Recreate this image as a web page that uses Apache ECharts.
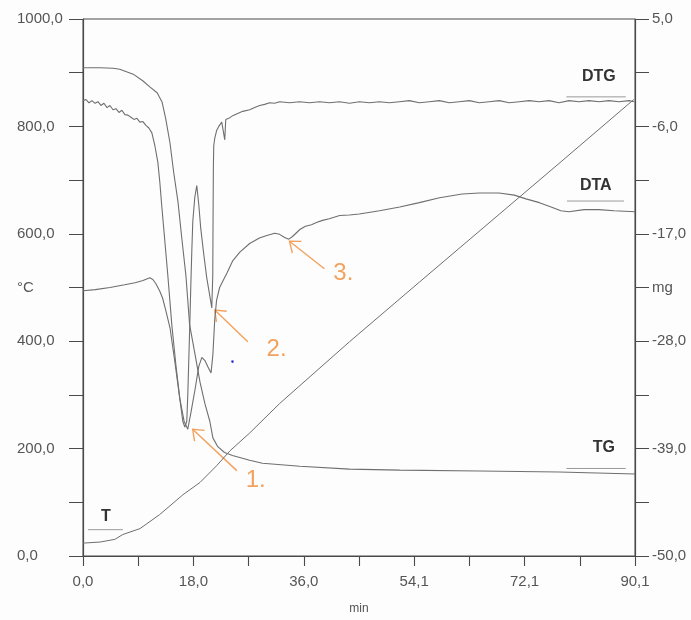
<!DOCTYPE html>
<html>
<head>
<meta charset="utf-8">
<script src="https://cdn.jsdelivr.net/npm/echarts@6/dist/echarts.min.js"></script>
<style>
  html, body { margin: 0; padding: 0; background: #fdfdfd; }
  #chart { width: 691px; height: 620px; }
</style>
</head>
<body>
<div id="chart"></div>
<script>
// Time axis (min)
const xTickValues = [0, 18.02, 36.04, 54.06, 72.08, 90.1];
const xTickLabels = ['0,0', '18,0', '36,0', '54,1', '72,1', '90,1'];
const xMinorTicks = [9.01, 27.03, 45.05, 63.07, 81.09];

// Temperature axis (°C), left
const tempLabelValues = [0, 200, 400, 500, 600, 800, 1000];
const tempTickLabels = ['0,0', '200,0', '400,0', '°C', '600,0', '800,0', '1000,0'];

// Mass axis (mg), right
const massTickValues = [-50, -44.5, -39, -33.5, -28, -22.5, -17, -11.5, -6, -0.5, 5];
const massLabelValues = [-50, -39, -28, -22.5, -17, -6, 5];
const massTickLabels = ['-50,0', '-39,0', '-28,0', 'mg', '-17,0', '-6,0', '5,0'];

// T: furnace temperature [min, °C]
const tempCurve = [
  [0, 24], [2.8, 26], [5.2, 31], [6.5, 40], [9.3, 51], [12.5, 77], [16.3, 114],
  [19.1, 137], [21.8, 168], [24.0, 196], [27.2, 229], [32.1, 284], [43.5, 399],
  [54.9, 510], [67.9, 636], [77.7, 731], [89.9, 850]
];

// TG: sample mass change [min, mg]
const tgCurve = [
  [0, 0.0], [2.8, 0.0], [4.9, -0.05], [6.0, -0.15], [8.2, -0.65], [9.8, -1.35],
  [10.9, -1.95], [12.1, -2.55], [12.9, -3.5], [13.5, -5.2], [14.2, -7.7],
  [14.8, -10.7], [15.5, -13.7], [16.1, -17.3], [16.8, -21.3], [17.4, -26.3],
  [18.3, -29.4], [19.1, -32.2], [19.9, -34.4], [20.7, -36.2], [21.2, -37.9],
  [22.0, -38.8], [23.1, -39.4], [24.4, -39.7], [27.2, -40.2], [29.3, -40.5],
  [35.4, -40.8], [43.5, -41.1], [51.7, -41.2], [64.7, -41.3], [77.7, -41.4],
  [90.1, -41.6]
];

// DTA signal [min, plotted level]
const dtaCurve = [
  [0, 494], [2.0, 496], [4.4, 500], [6.8, 505], [8.5, 509], [9.8, 513], [10.4, 516],
  [10.9, 518], [11.4, 515], [11.9, 507], [12.5, 494], [13.0, 480], [13.5, 458],
  [14.2, 425], [15.0, 361], [15.8, 293], [16.5, 251], [17.1, 236], [17.6, 266],
  [18.3, 311], [18.9, 353], [19.4, 370], [19.9, 364], [20.4, 352], [20.9, 341],
  [21.2, 375], [21.5, 440], [21.8, 476], [22.3, 500], [23.0, 516], [23.5, 527],
  [24.4, 549], [25.6, 566], [27.2, 582], [28.8, 592], [30.0, 597], [31.3, 601],
  [32.1, 599], [32.9, 593], [33.6, 590], [34.2, 595], [35.4, 608], [36.3, 614],
  [37.3, 617], [38.1, 621], [39.1, 625], [40.2, 628], [41.9, 634], [43.5, 635],
  [45.1, 637], [48.4, 643], [51.7, 650], [54.9, 658], [58.2, 667], [61.9, 674],
  [64.7, 676], [67.9, 676], [70.4, 672], [72.3, 665], [74.5, 658], [76.4, 650],
  [78.0, 643], [79.3, 641], [81.8, 645], [84.2, 645], [86.7, 643], [90.1, 641]
];

// DTG signal [min, plotted level]
const dtgCurve = [
  [0, 848], [0.49, 850], [0.98, 844], [1.47, 848], [1.96, 843], [2.44, 846],
  [2.93, 839], [3.42, 843], [3.91, 835], [4.40, 839], [4.89, 831], [5.38, 833],
  [5.87, 826], [6.35, 830], [6.84, 822], [7.33, 821], [7.82, 817], [8.31, 813],
  [8.80, 815], [9.29, 808], [9.78, 809], [10.26, 802], [10.75, 797], [11.24, 788],
  [11.73, 764], [12.22, 733], [12.54, 696], [12.87, 650], [13.36, 586], [13.85, 522],
  [14.50, 430], [15.15, 357], [15.80, 293], [16.29, 251], [16.62, 240], [16.94, 251],
  [17.11, 302], [17.43, 430], [17.60, 504], [17.76, 568], [17.92, 623], [18.25, 668],
  [18.57, 690], [18.90, 654], [19.22, 610], [19.71, 562], [20.20, 518], [20.69, 485],
  [21.02, 462], [21.18, 522], [21.23, 632], [21.28, 723], [21.34, 764], [21.51, 778],
  [21.83, 793], [22.16, 800], [22.65, 808], [22.97, 811], [23.14, 775], [23.30, 813],
  [23.79, 815], [24.44, 820], [25.25, 824], [26.07, 828], [27.21, 831], [28.02, 835],
  [28.84, 839], [29.65, 841], [30.47, 844], [31.28, 843], [32.10, 846], [33.72, 844],
  [35.35, 846], [36.98, 844], [38.61, 846], [40.24, 844], [41.87, 846], [43.50, 843],
  [45.13, 846], [46.76, 844], [48.39, 846], [50.02, 844], [51.65, 846], [53.27, 848],
  [54.90, 844], [56.53, 846], [58.16, 848], [59.79, 844], [61.42, 846], [63.05, 848],
  [64.68, 844], [66.31, 846], [67.94, 848], [69.57, 844], [71.20, 846], [72.83, 848],
  [74.45, 846], [76.08, 848], [77.71, 844], [79.34, 848], [80.97, 846], [82.60, 848],
  [84.23, 846], [85.86, 848], [87.49, 846], [89.12, 848], [89.93, 846]
];

// Curve names with their rule lines, in [min, °C] space
const curveTags = [
  { text: 'DTG', at: [84.2, 892], rule: [[78.9, 855], [88.6, 855]] },
  { text: 'DTA', at: [83.7, 690], rule: [[79.0, 661], [88.3, 661]] },
  { text: 'TG',  at: [85.0, 201], rule: [[78.9, 163], [88.6, 163]] },
  { text: 'T',   at: [3.75, 73],  rule: [[0.8, 49], [6.5, 49]] }
];

// Numbered step arrows, in [min, °C] space
const stepNotes = [
  { text: '1.', tip: [17.9, 236], tail: [25.1, 159], at: [28.2, 141] },
  { text: '2.', tip: [21.5, 458], tail: [26.9, 399], at: [31.6, 385] },
  { text: '3.', tip: [33.7, 586], tail: [39.4, 535], at: [42.5, 527] }
];
const strayDot = [24.4, 362];

const FONT = '"Liberation Sans", Arial, sans-serif';
const AXIS_COLOR = '#4a4a4a';
const TEXT_COLOR = '#555';
const CURVE_COLOR = '#6f6f6f';
const NOTE_COLOR = '#F2A25E';

function lookup(values, labels) {
  return function (v) {
    const i = values.findIndex(x => Math.abs(x - v) < 1e-6);
    return i < 0 ? '' : labels[i];
  };
}

const chart = echarts.init(document.getElementById('chart'), null, { renderer: 'canvas' });

const lineSeries = (name, data, yIdx, width) => ({
  type: 'line', name, data, xAxisIndex: 0, yAxisIndex: yIdx,
  showSymbol: false, symbol: 'none', silent: true, animation: false,
  lineStyle: { color: CURVE_COLOR, width: width }
});

const allXTicks = xTickValues.concat(xMinorTicks).sort((a, b) => a - b);

chart.setOption({
  backgroundColor: '#fdfdfd',
  animation: false,
  textStyle: { fontFamily: FONT },
  grid: { left: 83, right: 56, top: 19, bottom: 55, show: true, borderColor: AXIS_COLOR, borderWidth: 1, backgroundColor: 'transparent' },
  xAxis: {
    type: 'value', min: 0, max: 90.1, position: 'bottom',
    name: 'min', nameLocation: 'middle', nameGap: 47,
    nameTextStyle: { color: TEXT_COLOR, fontSize: 12, fontFamily: FONT },
    axisLine: { show: true, lineStyle: { color: AXIS_COLOR, width: 1.2 } },
    axisTick: { show: true, customValues: allXTicks, length: 10, lineStyle: { color: AXIS_COLOR, width: 1.1 } },
    axisLabel: { customValues: xTickValues, formatter: lookup(xTickValues, xTickLabels), margin: 18, color: TEXT_COLOR, fontSize: 15, fontFamily: FONT },
    splitLine: { show: false }
  },
  yAxis: [
    {
      type: 'value', min: 0, max: 1000, interval: 100, position: 'left',
      axisLine: { show: true, lineStyle: { color: AXIS_COLOR, width: 1.2 } },
      axisTick: { show: true, length: 14, lineStyle: { color: AXIS_COLOR, width: 1 } },
      axisLabel: { customValues: tempLabelValues, formatter: lookup(tempLabelValues, tempTickLabels), align: 'left', margin: 66, color: TEXT_COLOR, fontSize: 15, fontFamily: FONT, hideOverlap: false },
      splitLine: { show: false }
    },
    {
      type: 'value', min: -50, max: 5, position: 'right',
      axisLine: { show: true, lineStyle: { color: AXIS_COLOR, width: 1.2 } },
      axisTick: { show: true, customValues: massTickValues, length: 14, lineStyle: { color: AXIS_COLOR, width: 1 } },
      axisLabel: { customValues: massLabelValues, formatter: lookup(massLabelValues, massTickLabels), margin: 17, color: TEXT_COLOR, fontSize: 15, fontFamily: FONT, hideOverlap: false },
      splitLine: { show: false }
    }
  ],
  series: [
    lineSeries('T', tempCurve, 0, 1),
    lineSeries('TG', tgCurve, 1, 1.1),
    lineSeries('DTA', dtaCurve, 0, 1.1),
    lineSeries('DTG', dtgCurve, 0, 1.1)
  ]
});

// Overlay: curve names, rule lines, numbered arrows
const px = p => chart.convertToPixel({ xAxisIndex: 0, yAxisIndex: 0 }, p);
const graphics = [];

curveTags.forEach(tag => {
  const c = px(tag.at);
  const a = px(tag.rule[0]);
  const b = px(tag.rule[1]);
  graphics.push({
    type: 'line', silent: true,
    shape: { x1: a[0], y1: a[1], x2: b[0], y2: b[1] },
    style: { stroke: '#9a9a9a', lineWidth: 1 }
  });
  graphics.push({
    type: 'text', silent: true,
    style: { text: tag.text, x: c[0], y: c[1], align: 'center', verticalAlign: 'middle', fontSize: 16, fontWeight: 'bold', fontFamily: FONT, fill: '#333' }
  });
});

stepNotes.forEach(note => {
  const tip = px(note.tip);
  const tail = px(note.tail);
  const c = px(note.at);
  const dx = tail[0] - tip[0], dy = tail[1] - tip[1];
  const len = Math.hypot(dx, dy);
  const ux = dx / len, uy = dy / len;
  const head = [];
  [38, -38].forEach(deg => {
    const r = deg * Math.PI / 180;
    const hx = ux * Math.cos(r) - uy * Math.sin(r);
    const hy = ux * Math.sin(r) + uy * Math.cos(r);
    head.push([tip[0] + hx * 12, tip[1] + hy * 12]);
  });
  graphics.push({
    type: 'line', silent: true,
    shape: { x1: tail[0], y1: tail[1], x2: tip[0], y2: tip[1] },
    style: { stroke: NOTE_COLOR, lineWidth: 1.4 }
  });
  graphics.push({
    type: 'polyline', silent: true,
    shape: { points: [head[0], tip, head[1]] },
    style: { stroke: NOTE_COLOR, lineWidth: 1.4, fill: null }
  });
  graphics.push({
    type: 'text', silent: true,
    style: { text: note.text, x: c[0], y: c[1], align: 'center', verticalAlign: 'middle', fontSize: 24, fontFamily: FONT, fill: NOTE_COLOR }
  });
});

const dot = px(strayDot);
graphics.push({ type: 'circle', silent: true, shape: { cx: dot[0], cy: dot[1], r: 1.3 }, style: { fill: '#3030c8' } });

chart.setOption({ graphic: graphics });
</script>
</body>
</html>
